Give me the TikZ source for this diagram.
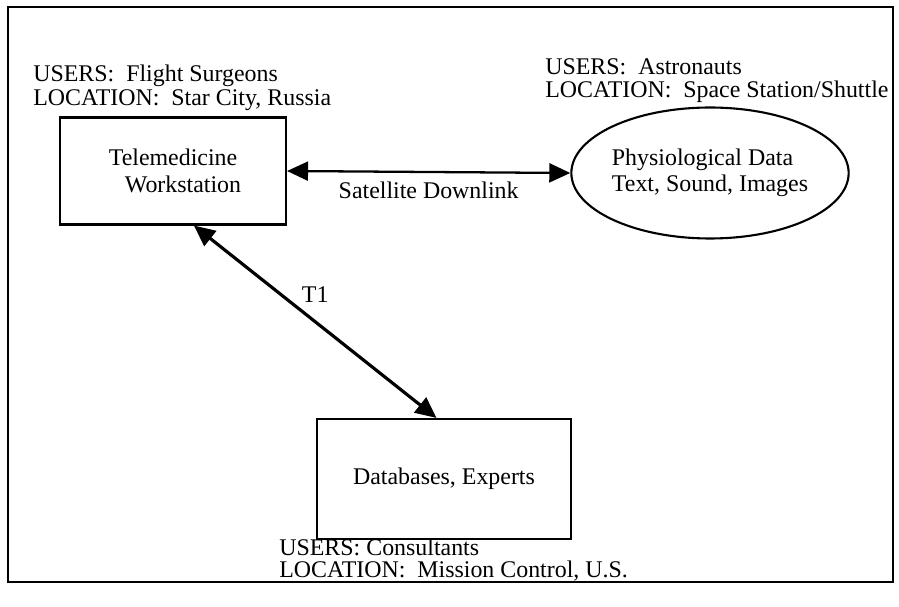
\documentclass[tikz,border=0pt]{standalone}
\usepackage{fontspec}
\setmainfont{Liberation Serif}
\usepackage{tikz}
\usetikzlibrary{positioning}
\usetikzlibrary{shapes.geometric}
\usetikzlibrary{arrows.meta}
\tikzstyle{pixelPlane} = [x = 0.02cm, y = -0.02cm]
\tikzstyle{diagramFont} = [font=\fontsize{13.6}{15}\selectfont]
\tikzstyle{frameStyle} = [color=black, line width=1.2pt]
\tikzstyle{boxStyle} = [draw, rectangle, line width=1.2pt, diagramFont, align=center, inner sep=0pt]
\tikzstyle{ellipseStyle} = [draw, ellipse, line width=1.2pt, diagramFont, align=left, inner sep=0pt]
\tikzstyle{labelText} = [diagramFont, anchor=base west, inner sep=0pt]
\tikzstyle{linkArrow} = [line width=1.3pt, {Triangle[length=0.42cm, width=0.38cm]}-{Triangle[length=0.42cm, width=0.38cm]}]
\tikzstyle{linkText} = [diagramFont]

\begin{document}
\begin{tikzpicture}[pixelPlane]
  \useasboundingbox (0,0) rectangle (899,607);
  \draw [frameStyle] (8,7) rectangle (893,582);

  % nodes
  \node [boxStyle, minimum width=4.52cm, minimum height=2.14cm] (ws) at (173,171)
    {Telemedicine\\\hspace{0.4cm}Workstation};
  \node [ellipseStyle, minimum width=5.36cm, minimum height=2.62cm] (phys) at (710,173)
    {Physiological Data\\Text, Sound, Images};
  \node [boxStyle, minimum width=5.08cm, minimum height=2.4cm] (db) at (444,479)
    {Databases, Experts};

  % users and locations
  \node [labelText] (usrWs) at (33,82) {USERS:\ \ Flight Surgeons};
  \node [labelText] (locWs) at (33,106) {LOCATION:\ \ Star City, Russia};
  \node [labelText] (usrPhys) at (545,75) {USERS:\ \ Astronauts};
  \node [labelText] (locPhys) at (545,98) {LOCATION:\ \ Space Station/Shuttle};
  \node [labelText, text depth=0pt] (usrDb) at (279,555) {USERS: Consultants};
  \node [labelText, text height=0.68em] (locDb) at (279,577) {LOCATION:\ \ Mission Control, U.S.};

  % links
  \draw [linkArrow] (ws.east) -- node [linkText, midway, below=0.06cm] (downlink) {Satellite Downlink} (phys.west);
  \draw [linkArrow, line width=1.8pt] (ws.-69.5) -- node [linkText, midway, above=0.24cm] (tOne) {T1} (db.97.6);
\end{tikzpicture}
\end{document}
